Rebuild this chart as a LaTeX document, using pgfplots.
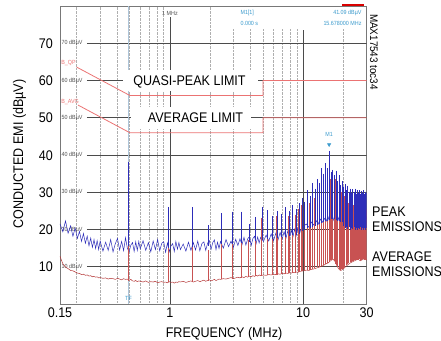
\documentclass[border=0pt]{standalone}
\usepackage{fontspec}
\setmainfont{Liberation Sans}[FakeStretch=0.9]
\usepackage{pgfplots}
\pgfplotsset{compat=1.18}
\usepackage{pgfplotstable}

\definecolor{bluetr}{RGB}{45,45,185}
\definecolor{redtr}{RGB}{180,55,55}
\definecolor{redspk}{RGB}{200,82,82}
\definecolor{limitcol}{RGB}{235,115,115}
\definecolor{gridmaj}{RGB}{75,75,75}
\definecolor{gridmin}{RGB}{175,175,175}
\definecolor{framecol}{RGB}{120,120,120}
\definecolor{cyantx}{RGB}{60,155,205}
\definecolor{cursorcol}{RGB}{175,198,218}
\definecolor{gridlbl}{RGB}{80,80,80}

\newcommand{\lbl}{\fontsize{14}{16}\selectfont}
\newcommand{\tinyf}{\fontsize{6}{7}\selectfont}

% frequency (MHz), peak (dBuV), average (dBuV) -- background noise floor
\pgfplotstableread{
f pk av
0.15 21.5 12.8
0.1575 19.4 10.8
0.165 22.3 9.9
0.1725 19.0 9.5
0.18 21.0 9.0
0.1875 18.2 8.9
0.195 20.4 8.6
0.2025 17.6 8.3
0.21 19.5 8.2
0.2175 16.8 7.9
0.225 18.9 8.0
0.2325 16.3 7.7
0.24 18.2 7.8
0.2475 15.6 7.5
0.255 17.7 7.6
0.2625 15.2 7.3
0.27 17.3 7.4
0.2775 14.9 7.2
0.285 17.0 7.3
0.2925 14.6 7.0
0.30 16.9 7.1
0.315 14.2 6.9
0.33 16.6 7.0
0.345 14.4 6.7
0.36 17.3 6.9
0.375 14.0 6.8
0.39 16.2 6.6
0.405 17.6 6.9
0.42 14.5 6.7
0.435 16.8 6.5
0.45 14.3 6.8
0.465 17.8 6.6
0.48 15.0 6.7
0.495 14.0 6.4
0.51 15.8 6.6
0.525 16.5 6.2
0.54 14.1 6.1
0.555 16.7 6.3
0.57 14.4 6.0
0.585 16.8 6.2
0.60 14.8 6.1
0.63 17.0 5.9
0.66 14.4 6.2
0.69 16.5 5.8
0.72 14.0 6.0
0.75 16.9 5.9
0.78 14.6 6.1
0.81 17.3 5.7
0.84 14.3 5.9
0.87 16.3 6.0
0.90 16.7 5.8
0.93 13.9 5.9
0.96 16.4 5.7
0.99 14.0 6.0
1.02 15.6 5.8
1.05 16.2 5.9
1.08 14.1 5.6
1.11 16.8 5.9
1.14 14.7 5.8
1.17 16.5 6.0
1.20 14.6 5.9
1.26 16.1 6.1
1.32 14.2 5.8
1.38 16.6 6.0
1.44 14.4 6.2
1.50 16.5 5.9
1.56 14.5 6.1
1.62 16.9 6.3
1.68 14.3 6.0
1.74 16.2 6.2
1.80 16.7 6.4
1.86 14.4 6.1
1.92 16.3 6.3
1.98 17.0 6.5
2.04 14.7 6.2
2.10 16.5 6.4
2.16 17.2 6.6
2.22 14.6 6.3
2.28 16.6 6.5
2.34 14.9 6.7
2.40 16.8 6.6
2.52 15.0 6.8
2.64 17.3 6.7
2.76 15.4 6.9
2.88 16.9 7.1
3.00 15.2 6.8
3.12 17.4 7.0
3.24 15.7 7.2
3.36 17.5 7.0
3.48 15.9 7.3
3.60 17.9 7.1
3.72 15.8 7.4
3.84 17.5 7.2
3.96 18.1 7.5
4.08 15.7 7.3
4.20 17.6 7.6
4.32 18.2 7.4
4.44 16.2 7.7
4.56 18.0 7.5
4.68 16.4 7.8
4.80 17.9 7.6
5.04 16.8 7.8
5.28 18.5 7.7
5.52 16.9 7.9
5.76 18.8 7.8
6.00 17.0 8.0
6.24 19.0 7.9
6.48 17.2 8.1
6.72 19.2 8.0
6.96 17.4 8.2
7.20 19.4 8.1
7.44 17.7 8.3
7.68 19.6 8.2
7.92 17.9 8.4
8.16 19.8 8.3
8.40 18.1 8.5
8.64 20.1 8.4
8.88 18.4 8.6
9.12 20.4 8.5
9.36 18.7 8.7
9.60 20.0 8.8
10.08 20.8 8.9
10.56 21.5 9.1
11.04 20.6 9.0
11.52 22.0 9.3
12.00 21.2 9.4
12.48 22.5 9.6
12.96 21.4 9.8
13.44 22.8 10.0
13.92 21.9 10.2
14.40 23.0 10.5
14.88 22.2 10.8
15.36 23.5 11.0
15.84 22.0 11.4
16.32 23.2 11.8
16.80 22.4 12.0
17.28 23.8 11.5
17.76 22.6 10.6
18.24 23.4 9.8
18.72 22.1 9.2
19.20 22.8 9.0
20.16 21.9 9.5
21.12 23.5 10.2
22.08 22.4 10.8
23.04 24.0 11.2
24.00 22.8 11.5
24.96 23.6 11.8
25.92 22.5 12.0
26.88 24.2 11.6
27.84 23.0 11.9
28.80 23.8 12.2
29.76 22.9 11.8
30.00 23.5 12.0
}\noisetable

% switching harmonics: frequency, peak top, peak floor, average top, average floor
\pgfplotstableread{
f pt pl at al
0.49 38.0 15.5 37.5 6.3
0.98 26.1 15.0 24.4 5.9
1.47 26.0 15.3 23.8 6.0
1.96 21.2 15.5 14.5 6.3
2.45 24.4 16.0 21.5 6.6
2.94 24.8 16.2 23.0 6.8
3.43 24.8 16.5 22.0 7.0
3.92 21.5 16.6 17.2 7.2
4.41 23.4 16.8 20.0 7.4
4.90 26.1 17.2 23.0 7.6
5.39 25.2 17.4 23.5 7.7
5.88 23.6 17.5 22.0 7.8
6.37 25.0 17.7 23.5 7.9
6.86 24.2 17.9 22.5 8.0
7.35 26.0 18.0 24.5 8.1
7.84 25.0 18.2 23.5 8.2
8.33 26.5 18.4 25.0 8.3
8.82 25.4 18.6 24.0 8.4
9.31 27.0 18.9 25.5 8.5
9.80 28.5 19.5 26.5 8.8
10.29 27.5 20.0 26.0 8.9
10.78 30.5 20.3 28.0 9.0
11.27 29.0 20.5 27.0 9.2
11.76 32.5 20.8 29.5 9.4
12.25 31.0 21.0 28.5 9.6
12.74 33.5 21.2 31.0 9.8
13.23 32.5 21.5 30.0 10.0
13.72 36.5 21.8 33.0 10.3
14.21 35.0 22.0 32.0 10.6
14.70 37.8 22.2 34.5 10.8
15.19 36.5 22.4 33.5 11.0
15.68 41.09 22.6 36.0 11.4
16.17 35.5 22.8 33.5 11.8
16.66 36.0 22.8 34.5 12.0
17.15 34.5 22.8 32.5 11.5
17.64 35.8 22.6 33.5 10.8
18.13 33.0 22.4 31.0 10.0
18.62 34.5 22.2 31.5 9.4
19.11 32.0 22.0 29.5 9.0
19.60 33.0 22.0 30.0 9.3
20.09 31.5 21.0 28.5 9.5
20.58 32.2 20.5 29.0 10.0
21.07 30.5 20.8 27.5 10.5
21.56 31.8 20.2 28.5 10.8
22.05 30.2 20.6 27.0 11.0
22.54 31.0 20.0 28.0 11.2
23.03 29.8 20.5 26.5 11.4
23.52 30.8 20.2 27.5 11.5
24.01 30.0 20.6 26.5 11.6
24.50 31.0 20.0 27.5 11.7
24.99 29.6 20.4 26.0 11.8
25.48 30.6 20.0 27.0 11.8
25.97 29.8 20.5 26.0 11.9
26.46 30.5 20.1 27.0 12.0
26.95 29.5 20.6 25.8 11.8
27.44 30.4 20.0 26.8 11.9
27.93 29.8 20.4 25.8 12.0
28.42 30.6 20.0 26.5 12.0
28.91 29.5 20.5 25.5 11.8
29.40 30.2 20.0 26.2 12.0
29.89 29.8 20.4 25.5 11.9
}\spiketable

\begin{document}
\begin{tikzpicture}
\useasboundingbox (0,0) rectangle (441bp,341bp);
\begin{axis}[
  at={(60bp,37bp)}, anchor=south west, scale only axis,
  width=306.7bp, height=298bp,
  xmode=log, xmin=0.15, xmax=30, ymin=0, ymax=80,
  xtick={0.15,1,10,30}, xticklabels={0.15,1,10,30},
  ytick={10,20,30,40,50,60,70},
  minor xtick={0.2,0.3,0.4,0.5,0.6,0.7,0.8,0.9,2,3,4,5,6,7,8,9,20},
  xminorgrids,
  minor grid style={gridmin, densely dotted, line width=0.5pt},
  major tick length=0pt, minor tick length=0pt,
  axis line style={framecol, line width=0.8pt},
  ticklabel style={font=\lbl, inner sep=0pt},
  xticklabel style={anchor=base, yshift=-13.3bp},
  yticklabel style={anchor=base east, xshift=-7bp, yshift=-5bp},
  /pgf/number format/assume math mode=true,
  clip=true,
]
% analyzer grid
\foreach \v in {10,20,30,40,50,60,70} {
  \edef\tmp{\noexpand\draw[gridmaj, line width=0.6pt] (axis cs:0.239,\v) -- (axis cs:30,\v);}\tmp
}
\draw[gridmaj, line width=0.6pt] (axis cs:1,0) -- (axis cs:1,77);
\draw[gridmaj, line width=0.6pt] (axis cs:10,0) -- (axis cs:10,73.5);
\draw[cursorcol, line width=0.5pt] (axis cs:0.49,0) -- (axis cs:0.49,80);
\foreach \v in {10,20,30,40,50,60,70} {
  \edef\tmp{\noexpand\node[font=\noexpand\tinyf, text=gridlbl, anchor=west, inner sep=0pt] at (axis cs:0.154,\v) {\v\space dBµV};}\tmp
}
% limit lines
\addplot[limitcol, line width=0.8pt] coordinates {(0.2,63.6) (0.5,56) (5,56) (5,60) (30,60)};
\addplot[limitcol, line width=0.8pt] coordinates {(0.205,53.4) (0.5,46) (5,46) (5,50) (30,50)};
% noise floors
\addplot[bluetr, line width=0.5pt] table[x=f, y=pk] {\noisetable};
\addplot[redtr, line width=0.5pt] table[x=f, y=av] {\noisetable};
% average emission harmonics
\addplot[draw=none, mark=none, error bars/.cd, y dir=minus, y explicit,
  error mark=none, error bar style={draw=redspk, line width=1.15pt}]
  table[x=f, y=at, y error expr=\thisrow{at}-\thisrow{al}] {\spiketable};
% peak emission harmonics
\addplot[draw=none, mark=none, error bars/.cd, y dir=minus, y explicit,
  error mark=none, error bar style={draw=bluetr, line width=0.6pt}]
  table[x=f, y=pt, y error expr=\thisrow{pt}-\thisrow{pl}] {\spiketable};
% marker M1
\addplot[only marks, mark=triangle*, mark size=2pt, cyantx, mark options={rotate=180}] coordinates {(15.68,42.8)};
\node[font=\tinyf, text=cyantx] at (axis cs:15.68,45.6) {M1};
\node[font=\tinyf, text=cyantx] at (axis cs:0.49,1.6) {TF};
\end{axis}

% analyzer marker readout area
\fill[white] (226bp,312bp) rectangle (365.5bp,333.8bp);
\node[font=\tinyf, text=gridlbl] at (170bp,328bp) {1 MHz};
\node[font=\tinyf, text=cyantx, anchor=west] at (237bp,328bp) {M1[1]};
\node[font=\tinyf, text=cyantx, anchor=west] at (237bp,318bp) {0.000 s};
\node[font=\tinyf, text=cyantx, anchor=east] at (365bp,328bp) {41.09 dBµV};
\node[font=\tinyf, text=cyantx, anchor=east] at (365bp,318bp) {15.678000 MHz};
\draw[red!85!black, line width=2bp] (342bp,336bp) -- (364bp,336bp);

% limit labels
\node[font=\tinyf, text=limitcol, anchor=west, inner sep=0.3pt] at (60.8bp,278bp) {B\_QP};
\node[font=\tinyf, text=limitcol, anchor=west, inner sep=0.3pt] at (60.8bp,239bp) {B\_AVG};

% annotation boxes
\fill[white] (123bp,250bp) rectangle (258bp,271bp);
\node[font=\lbl, anchor=base, inner sep=0pt] at (189.5bp,255bp) {QUASI-PEAK LIMIT};
\fill[white] (131bp,212bp) rectangle (251bp,234bp);
\node[font=\lbl, anchor=base, inner sep=0pt] at (195.5bp,218bp) {AVERAGE LIMIT};

% right-hand labels
\node[font=\lbl, anchor=base west, inner sep=0pt] at (372bp,124bp) {PEAK};
\node[font=\lbl, anchor=base west, inner sep=0pt] at (372bp,109bp) {EMISSIONS};
\node[font=\lbl, anchor=base west, inner sep=0pt] at (372bp,79bp) {AVERAGE};
\node[font=\lbl, anchor=base west, inner sep=0pt] at (372bp,64bp) {EMISSIONS};
\node[font=\fontsize{11}{13}\selectfont, rotate=-90, inner sep=0pt] at (374bp,289bp) {MAX17543 toc34};

% axis titles
\node[font=\lbl, rotate=90, anchor=base, inner sep=0pt] at (23bp,187bp) {CONDUCTED EMI (dBµV)};
\node[font=\lbl, anchor=base, inner sep=0pt] at (224bp,4bp) {FREQUENCY (MHz)};
\end{tikzpicture}
\end{document}
